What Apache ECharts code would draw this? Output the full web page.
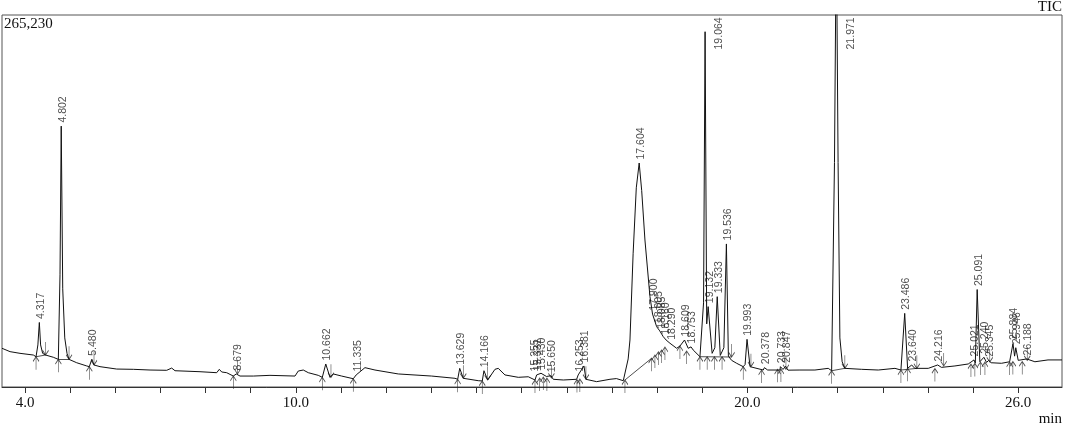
<!DOCTYPE html>
<html>
<head>
<meta charset="utf-8">
<script src="https://cdn.jsdelivr.net/npm/echarts@6/dist/echarts.min.js"></script>
<style>
html,body{margin:0;padding:0;background:#fff;}
#chart{width:1065px;height:429px;}
</style>
</head>
<body>
<div id="chart"></div>
<script>
// ---------- data ----------
const fullScale = 265230;
const xMin = 3.49, xMax = 26.97;
const xTickValues = [4,5,6,7,8,9,10,11,12,13,14,15,16,17,18,19,20,21,22,23,24,25,26];
const xLabelValues = [4,10,20,26];

// TIC trace: retention time (min) and intensity (counts)
const traceTimes = [3.49,3.668,3.889,4.184,4.244,4.285,4.317,4.345,4.39,4.455,4.627,4.738,4.775,4.802,4.835,4.88,4.93,4.975,5.145,5.367,5.424,5.48,5.528,5.661,6.031,6.399,6.769,7.138,7.249,7.322,7.876,8.246,8.303,8.357,8.467,8.614,8.679,8.762,9.057,9.426,9.98,10.053,10.164,10.275,10.496,10.585,10.662,10.755,10.828,11.014,11.271,11.335,11.53,11.752,12.268,13.008,13.524,13.584,13.629,13.708,13.745,14.04,14.128,14.166,14.248,14.41,14.483,14.631,14.926,15.147,15.296,15.333,15.43,15.55,15.65,15.701,15.923,16.219,16.253,16.381,16.425,16.662,16.957,17.1,17.252,17.289,17.36,17.4,17.47,17.54,17.604,17.66,17.732,17.843,17.9,17.991,18.06,18.137,18.2,18.286,18.434,18.507,18.609,18.69,18.753,18.8,18.95,19.03,19.064,19.1,19.132,19.22,19.28,19.333,19.4,19.48,19.536,19.58,19.652,19.763,19.909,19.95,19.993,20.06,20.352,20.378,20.45,20.722,20.733,20.79,20.847,20.9,21.165,21.497,21.792,21.867,21.93,21.971,22.01,22.05,22.1,22.16,22.532,22.9,23.27,23.402,23.486,23.55,23.64,23.71,24.007,24.216,24.3,24.598,24.893,25.021,25.05,25.091,25.15,25.24,25.3,25.345,25.4,25.63,25.81,25.884,25.92,25.946,26.0,26.188,26.37,26.66,26.97];
const traceCounts = [27600,25200,24000,22800,21600,30000,46000,30000,24000,22800,21200,19700,80000,186000,70000,35000,24000,19700,17300,15000,14500,19800,15700,14500,12800,12600,12100,11900,13500,11600,10900,10200,12600,10700,10200,7800,9300,7800,7800,8300,7800,11400,12100,10200,8300,6900,16400,6900,9300,7800,5900,8600,13800,12100,9300,7800,6200,5500,13300,6200,6900,4500,4300,11600,5000,12600,13300,8600,6900,7300,5000,8600,9800,7500,8000,5500,5000,5500,8600,15000,5500,3800,5500,6000,4500,5000,20000,33500,95000,142000,159700,140000,104800,64400,52000,43000,40000,35900,33500,31200,27600,29200,33500,27600,28600,26400,21600,60000,253300,45000,57300,24000,28000,64400,22500,28000,102000,22000,19000,16900,14500,16000,34000,14500,12100,13800,12100,12100,14500,12500,14800,12000,12100,12100,13300,11600,160000,330000,160000,35000,18000,13300,12600,12100,13300,12100,52500,13300,15700,13300,13300,15700,14000,15000,16400,19300,17000,69500,18000,21200,17500,19000,17300,16900,18000,31000,22000,28000,19000,20000,18000,19300,19300];

// peak labels (retention time text) and apex intensity
const peakNames = ['4.317','4.802','5.480','8.679','10.662','11.335','13.629','14.166','15.255','15.331','15.430','15.650','16.253','16.381','17.604','17.900','18.005','18.085','18.160','18.290','18.609','18.753','19.064','19.132','19.333','19.536','19.993','20.378','20.733','20.847','21.971','23.486','23.640','24.216','25.021','25.091','25.240','25.345','25.884','25.946','26.188'];
const peakApex = [46000,186000,19800,9300,16400,8600,13300,11600,8600,9000,9800,8000,8600,15000,159700,52000,43000,39000,35000,31200,33500,28600,253300,57300,64400,102000,34000,13800,14500,14800,330000,52500,15700,15700,19300,69500,21200,19000,31000,28000,20000];

// peak start markers (time, intensity)
const startTimes = [4.244,4.738,5.424,8.614,10.585,11.271,13.584,14.128,15.296,15.40,15.48,15.56,16.226,16.29,17.289,17.88,17.953,18.03,18.10,18.175,18.507,18.655,18.95,19.11,19.27,19.44,19.909,20.316,20.67,20.744,21.867,23.402,23.55,24.155,24.953,25.04,25.163,25.263,25.81,25.882,26.089];
const startCounts = [21600,19700,14500,7800,6900,5900,5500,4300,5000,6400,7100,6400,5300,5700,5000,20500,22800,25000,26400,28500,29200,25700,21600,21600,21600,21600,14500,12100,12600,12800,11600,12100,13300,13200,16400,16800,17800,17800,17800,18200,18200];

// peak end markers (time, intensity)
const endTimes = [4.455,4.975,5.528,8.706,10.777,13.708,14.248,15.66,16.425,19.652,20.08,20.855,22.16,23.755,24.35,25.37,26.2];
const endCounts = [22800,19700,15700,9300,6900,6200,5000,6400,5500,21400,14500,12500,13300,13300,15000,17800,18900];

// drawn integration baselines: [t1, v1, t2, v2]
const baselineSegments = [
  [4.244,21600,4.455,22800],
  [4.738,19700,4.975,19700],
  [17.289,5000,17.88,20500],
  [18.95,21600,19.652,21400],
  [21.867,11600,22.16,13300],
  [23.402,12100,23.755,13300]
];

// ---------- chart ----------
const chart = echarts.init(document.getElementById('chart'), null, {renderer:'canvas'});

const trace = traceTimes.map((t,i)=>[t, traceCounts[i]]);
const clampLevel = fullScale * 0.906;
const labelData = peakNames.map((n,i)=>{
  const t = parseFloat(n);
  const v = peakApex[i];
  if (v > fullScale * 0.9) {
    return {value:[t, clampLevel], name:n, label:{position:[15,0]}};
  }
  return {value:[t, v], name:n};
});

const upArrow = 'path://M4,0 L4,14 M0,5 L4,0 L8,5';
const downArrow = 'path://M4,0 L4,14 M0,9 L4,14 L8,9';

const option = {
  animation:false,
  grid:{left:2,right:3,top:15,bottom:42,show:true,borderColor:'#555',borderWidth:1,backgroundColor:'transparent'},
  xAxis:{
    type:'value', min:xMin, max:xMax,
    axisLine:{show:true,onZero:false,lineStyle:{color:'#333',width:1}},
    axisTick:{show:true,length:6,customValues:xTickValues,lineStyle:{color:'#333'}},
    axisLabel:{show:true,customValues:xLabelValues,margin:9,
      formatter:v=>Number(v).toFixed(1),
      fontFamily:'Liberation Serif',fontSize:15,color:'#111'},
    splitLine:{show:false}
  },
  yAxis:{type:'value',min:0,max:fullScale,show:false,splitLine:{show:false}},
  graphic:[
    {type:'text',left:4,top:17,style:{text:'265,230',font:'15px "Liberation Serif"',fill:'#111'}},
    {type:'text',right:3,top:0,style:{text:'TIC',font:'15px "Liberation Serif"',fill:'#111'}},
    {type:'text',right:3,top:412,style:{text:'min',font:'15px "Liberation Serif"',fill:'#111'}}
  ],
  series:[
    {
      type:'line', data:trace, symbol:'none', clip:true, silent:true,
      lineStyle:{color:'#111',width:1}
    },
    {
      type:'lines', coordinateSystem:'cartesian2d', silent:true,
      data:baselineSegments.map(s=>({coords:[[s[0],s[1]],[s[2],s[3]]]})),
      lineStyle:{color:'#222',width:0.8,opacity:1}
    },
    {
      type:'scatter', silent:true, clip:false,
      data:startTimes.map((t,i)=>[t,startCounts[i]]),
      symbol:upArrow, symbolSize:[6,13], symbolOffset:[0,6.5],
      itemStyle:{color:'rgba(0,0,0,0)',borderColor:'#222',borderWidth:0.9}
    },
    {
      type:'scatter', silent:true, clip:false,
      data:endTimes.map((t,i)=>[t,endCounts[i]]),
      symbol:downArrow, symbolSize:[6,13], symbolOffset:[0,-6.5],
      itemStyle:{color:'rgba(0,0,0,0)',borderColor:'#222',borderWidth:0.9}
    },
    {
      type:'scatter', silent:true, clip:false,
      data:labelData, symbol:'circle', symbolSize:1,
      itemStyle:{color:'rgba(0,0,0,0)'},
      label:{show:true, formatter:p=>p.name, rotate:90, position:[2,-3],
        align:'left', verticalAlign:'middle',
        fontFamily:'Liberation Sans', fontSize:10.5, color:'#222'}
    }
  ]
};
chart.setOption(option);
</script>
</body>
</html>
